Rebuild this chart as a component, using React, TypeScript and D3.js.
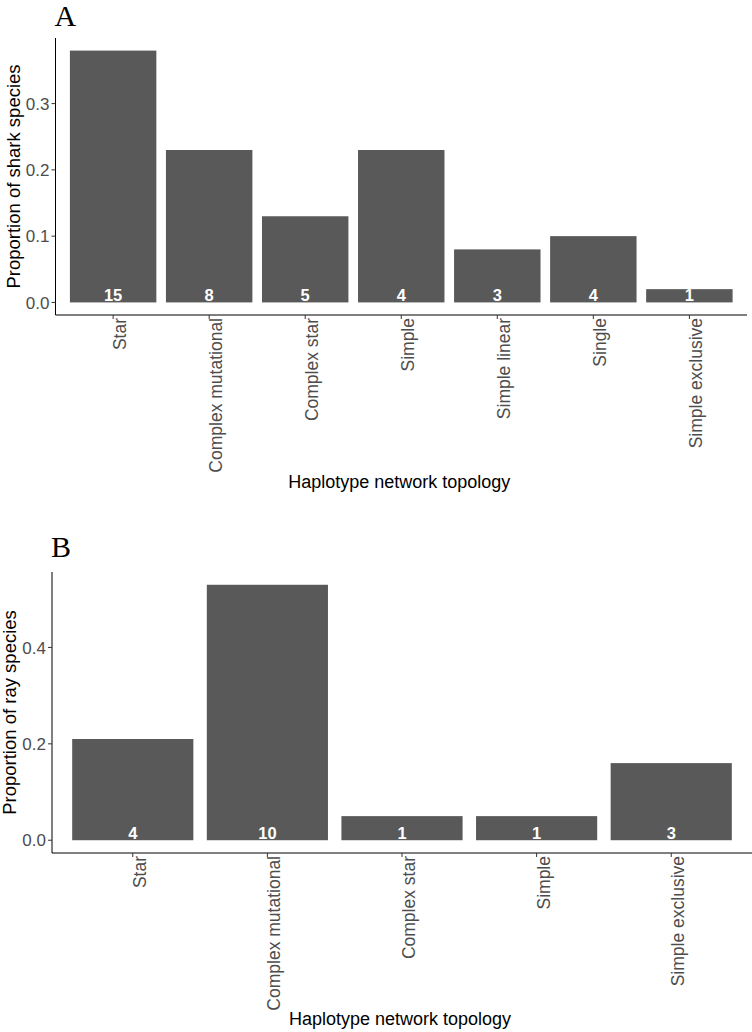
import React from "react";
import * as d3 from "d3";

const sharkCategories = ["Star", "Complex mutational", "Complex star", "Simple", "Simple linear", "Single", "Simple exclusive"];
const sharkValues = [0.38, 0.23, 0.13, 0.23, 0.08, 0.10, 0.02];
const sharkCounts = [15, 8, 5, 4, 3, 4, 1];
const sharkTicks = [0.0, 0.1, 0.2, 0.3];

const rayCategories = ["Star", "Complex mutational", "Complex star", "Simple", "Simple exclusive"];
const rayValues = [0.21, 0.53, 0.05, 0.05, 0.16];
const rayCounts = [4, 10, 1, 1, 3];
const rayTicks = [0.0, 0.2, 0.4];

const FONT = "'Liberation Sans', Arial, Helvetica, sans-serif";

type PanelProps = {
  letter: string;
  letterY: number;
  categories: string[];
  values: number[];
  counts: number[];
  ticks: number[];
  yTitle: string;
  left: number;
  right: number;
  top: number;
  bottom: number;
  xTitleY: number;
  yTitleX: number;
};

function Panel(p: PanelProps) {
  const x = d3.scaleBand<string>().domain(p.categories).range([p.left, p.right]).paddingInner(0.1).paddingOuter(0.15);
  const maxV = d3.max(p.values) as number;
  const ex = maxV * 0.05;
  const y = d3.scaleLinear().domain([-ex, maxV + ex]).range([p.bottom, p.top]);
  const fmt = d3.format(".1f");
  const bw = x.bandwidth();
  return (
    <g>
      <text x={p.left - 1} y={p.letterY} fontFamily="'Liberation Serif', 'Times New Roman', serif" fontSize={30} fill="#000">
        {p.letter}
      </text>
      {p.categories.map((c, i) => (
        <rect key={c} x={x(c)} y={y(p.values[i])} width={bw} height={y(0) - y(p.values[i])} fill="#595959" />
      ))}
      {p.categories.map((c, i) => (
        <text key={c + "n"} x={(x(c) as number) + bw / 2} y={y(0) - 1.5} textAnchor="middle" fontFamily={FONT} fontSize={16.5} fontWeight="bold" fill="#fff">
          {p.counts[i]}
        </text>
      ))}
      {/* axes */}
      <line x1={p.left} x2={p.left} y1={p.top} y2={p.bottom} stroke="#000" strokeWidth={1} />
      <line x1={p.left} x2={p.right} y1={p.bottom} y2={p.bottom} stroke="#000" strokeWidth={1} />
      {p.ticks.map((t) => (
        <g key={t}>
          <line x1={p.left - 4} x2={p.left} y1={y(t)} y2={y(t)} stroke="#333" strokeWidth={1} />
          <text x={p.left - 6} y={y(t)} dy="0.36em" textAnchor="end" fontFamily={FONT} fontSize={17} fill="#4d4d4d">
            {fmt(t)}
          </text>
        </g>
      ))}
      {p.categories.map((c) => {
        const cx = (x(c) as number) + bw / 2;
        return (
          <g key={c + "t"}>
            <line x1={cx} x2={cx} y1={p.bottom} y2={p.bottom + 4} stroke="#333" strokeWidth={1} />
            <text
              transform={`translate(${cx + 13},${p.bottom + 3}) rotate(-90)`}
              textAnchor="end"
              fontFamily={FONT}
              fontSize={17.5}
              fill="#4d4d4d"
            >
              {c}
            </text>
          </g>
        );
      })}
      <text x={(p.left + p.right) / 2 - 2} y={p.xTitleY} textAnchor="middle" fontFamily={FONT} fontSize={18} fill="#000">
        Haplotype network topology
      </text>
      <text
        transform={`translate(${p.yTitleX},${(p.top + p.bottom) / 2}) rotate(-90)`}
        textAnchor="middle"
        fontFamily={FONT}
        fontSize={18.5}
        fill="#000"
      >
        {p.yTitle}
      </text>
    </g>
  );
}

export default function App() {
  React.useEffect(() => {
    document.body.style.margin = "0";
  }, []);
  return (
    <svg width={752} height={1032} style={{ display: "block", position: "absolute", left: 0, top: 0, background: "#fff" }}>
      <rect width={752} height={1032} fill="#fff" />
      <Panel
        letter="A"
        letterY={26}
        categories={sharkCategories}
        values={sharkValues}
        counts={sharkCounts}
        ticks={sharkTicks}
        yTitle="Proportion of shark species"
        left={55.5}
        right={747}
        top={38}
        bottom={315}
        xTitleY={488}
        yTitleX={20}
      />
      <Panel
        letter="B"
        letterY={557}
        categories={rayCategories}
        values={rayValues}
        counts={rayCounts}
        ticks={rayTicks}
        yTitle="Proportion of ray species"
        left={52}
        right={752}
        top={572}
        bottom={853}
        xTitleY={1025}
        yTitleX={16}
      />
    </svg>
  );
}
